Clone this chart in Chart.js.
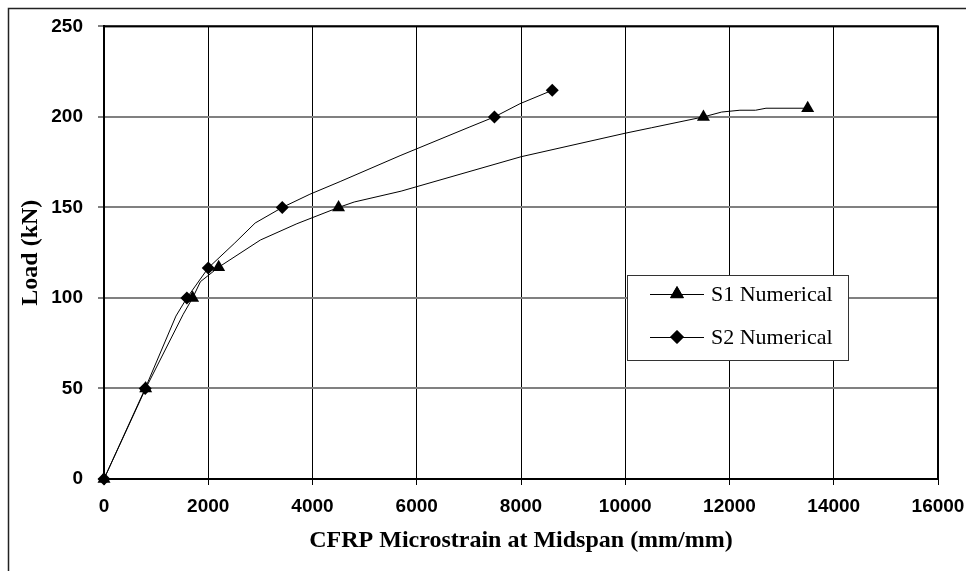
<!DOCTYPE html>
<html>
<head>
<meta charset="utf-8">
<script src="https://cdn.jsdelivr.net/npm/chart.js@4.4.1/dist/chart.umd.min.js"></script>
<style>
  html, body { margin: 0; padding: 0; background: #fff; }
  #wrap { position: relative; width: 966px; height: 571px; }
</style>
</head>
<body>
<div id="wrap"><canvas id="chart" width="966" height="571"></canvas></div>
<script>
// strain (microstrain) and load (kN)
const s1Strain = [0, 800, 1520, 1700, 1850, 2200, 3000, 3700, 4500, 4800, 5700, 8000, 10000, 10500, 11500, 11850, 12200, 12500, 12700, 13500];
const s1Load = [0, 50, 91, 100, 109, 117, 132, 141, 150, 153, 159, 178, 191, 194, 200, 202.7, 203.7, 203.7, 204.8, 204.8];
const s1Markers = [0, 1, 3, 5, 8, 14, 19];

const s2Strain = [0, 790, 1380, 1590, 2000, 2510, 2900, 3420, 3950, 4530, 5680, 7020, 7490, 7980, 8600];
const s2Load = [0, 50, 90, 100, 116.6, 130.4, 141.4, 150, 157.3, 164.3, 178.6, 194.5, 200, 207.3, 214.7];
const s2Markers = [0, 1, 3, 4, 7, 12, 14];

const seriesNames = ['S1 Numerical', 'S2 Numerical'];
const xTicks = [0, 2000, 4000, 6000, 8000, 10000, 12000, 14000, 16000];
const yTicks = [0, 50, 100, 150, 200, 250];

function toPoints(xs, ys) {
  return xs.map((x, i) => ({ x: x, y: ys[i] }));
}

const tickFont = { family: '"Liberation Sans", Arial, sans-serif', size: 19, weight: 'bold' };
const titleFont = { family: '"Liberation Serif", "Times New Roman", serif', size: 24, weight: 'bold' };

// outer figure border + plot frame
const framePlugin = {
  id: 'frame',
  beforeDraw(chart) {
    const ctx = chart.ctx;
    ctx.save();
    ctx.strokeStyle = '#222';
    ctx.lineWidth = 1.5;
    ctx.beginPath();
    ctx.moveTo(966, 8.5);
    ctx.lineTo(8.5, 8.5);
    ctx.lineTo(8.5, 571);
    ctx.stroke();
    ctx.restore();
  },
  beforeDatasetsDraw(chart) {
    const a = chart.chartArea;
    const ctx = chart.ctx;
    ctx.save();
    ctx.strokeStyle = '#000';
    ctx.lineWidth = 2;
    ctx.strokeRect(a.left, a.top, a.right - a.left, a.bottom - a.top);
    ctx.restore();
  }
};

// legend box drawn like the Excel one (line through marker)
const legendPlugin = {
  id: 'boxLegend',
  afterDraw(chart) {
    const ctx = chart.ctx;
    const box = { x: 627, y: 275, w: 221, h: 85 };
    ctx.save();
    ctx.fillStyle = '#fff';
    ctx.fillRect(box.x, box.y, box.w, box.h);
    ctx.strokeStyle = '#333';
    ctx.lineWidth = 1;
    ctx.strokeRect(box.x + 0.5, box.y + 0.5, box.w, box.h);
    const rowsY = [294, 337];
    chart.data.datasets.forEach((ds, i) => {
      const y = rowsY[i];
      ctx.strokeStyle = '#000';
      ctx.lineWidth = 1;
      ctx.beginPath();
      ctx.moveTo(650, y + 0.5);
      ctx.lineTo(704, y + 0.5);
      ctx.stroke();
      ctx.fillStyle = '#000';
      Chart.helpers.drawPoint(ctx, {
        pointStyle: ds.pointStyle,
        radius: ds.markerSize,
        rotation: 0,
        borderWidth: 1
      }, 677, y);
      ctx.fill();
      ctx.font = '22px "Liberation Serif", "Times New Roman", serif';
      ctx.textAlign = 'left';
      ctx.textBaseline = 'middle';
      ctx.fillText(ds.label, 711, y + 1);
    });
    ctx.restore();
  }
};

function markerRadius(list, size) {
  return ctx => list.includes(ctx.dataIndex) ? size : 0;
}

const chart = new Chart(document.getElementById('chart'), {
  type: 'scatter',
  data: {
    datasets: [
      {
        label: seriesNames[0],
        data: toPoints(s1Strain, s1Load),
        showLine: true,
        clip: false,
        borderColor: '#000',
        backgroundColor: '#000',
        borderWidth: 1,
        tension: 0,
        pointStyle: 'triangle',
        markerSize: 7.5,
        pointRadius: markerRadius(s1Markers, 7.5),
        pointHoverRadius: markerRadius(s1Markers, 7.5),
        pointBorderWidth: 0
      },
      {
        label: seriesNames[1],
        data: toPoints(s2Strain, s2Load),
        showLine: true,
        clip: false,
        borderColor: '#000',
        backgroundColor: '#000',
        borderWidth: 1,
        tension: 0,
        pointStyle: 'rectRot',
        markerSize: 6.5,
        pointRadius: markerRadius(s2Markers, 6.5),
        pointHoverRadius: markerRadius(s2Markers, 6.5),
        pointBorderWidth: 0
      }
    ]
  },
  options: {
    responsive: false,
    animation: false,
    events: [],
    layout: { padding: { left: 8, top: 24, right: 28, bottom: 0 } },
    plugins: {
      legend: { display: false },
      tooltip: { enabled: false }
    },
    scales: {
      x: {
        type: 'linear',
        min: 0,
        max: 16000,
        afterBuildTicks: axis => { axis.ticks = xTicks.map(v => ({ value: v })); },
        afterFit: axis => { axis.height = 92; axis.paddingRight = 0; axis.paddingLeft = 0; },
        grid: { color: '#000', lineWidth: 1, tickLength: 6, drawTicks: true },
        border: { color: '#000', width: 2 },
        ticks: { color: '#000', font: tickFont, padding: 10, maxRotation: 0, callback: v => String(v) },
        title: {
          display: true,
          text: 'CFRP Microstrain at Midspan (mm/mm)',
          color: '#000',
          font: titleFont,
          padding: { top: 0, bottom: 16 }
        }
      },
      y: {
        type: 'linear',
        min: 0,
        max: 250,
        afterBuildTicks: axis => { axis.ticks = yTicks.map(v => ({ value: v })); },
        afterFit: axis => { axis.width = 96; },
        grid: { color: '#808080', lineWidth: 2, tickLength: 6, drawTicks: true },
        border: { color: '#000', width: 2 },
        ticks: { color: '#000', font: tickFont, padding: 15, callback: v => String(v) },
        title: {
          display: true,
          text: 'Load (kN)',
          color: '#000',
          font: titleFont,
          padding: { top: 8, bottom: 0 }
        }
      }
    }
  },
  plugins: [framePlugin, legendPlugin]
});
</script>
</body>
</html>
